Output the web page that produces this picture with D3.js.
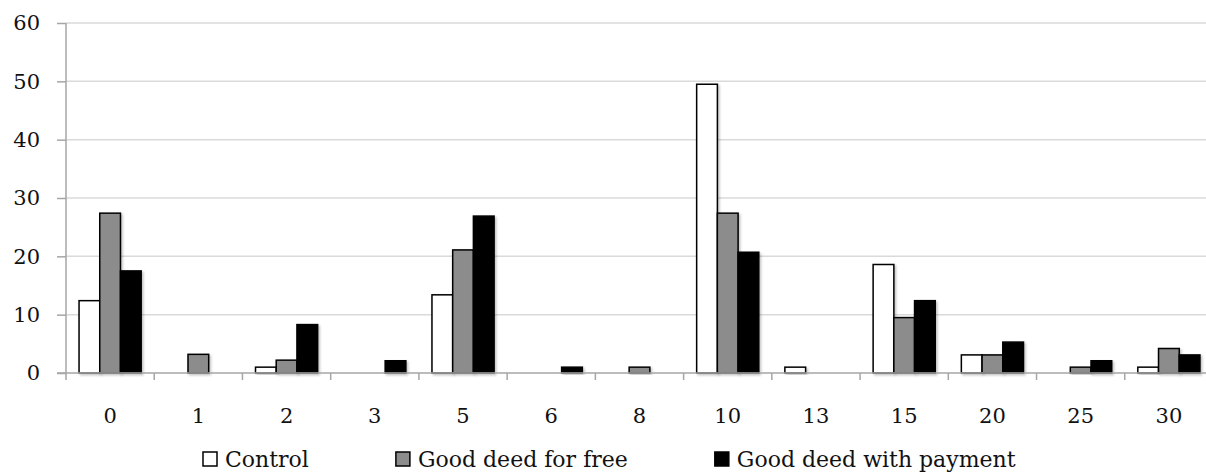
<!DOCTYPE html>
<html>
<head>
<meta charset="utf-8">
<script src="https://cdn.jsdelivr.net/npm/d3@7"></script>
<style>
  html, body { margin: 0; padding: 0; background: #fff; }
  svg { display: block; }
  text { font-family: "DejaVu Serif", serif; fill: #111; }
</style>
</head>
<body>
<svg id="chart" width="1206" height="473"></svg>
<script>
const categories= ['0', '1', '2', '3', '5', '6', '8', '10', '13', '15', '20', '25', '30'];
const seriesNames= ['Control', 'Good deed for free', 'Good deed with payment'];
const control= [12.4, 0, 1.0, 0, 13.4, 0, 0, 49.5, 1.0, 18.6, 3.1, 0, 1.0];
const forFree= [27.4, 3.2, 2.2, 0, 21.1, 0, 1.0, 27.4, 0, 9.5, 3.1, 1.0, 4.2];
const withPayment= [17.5, 0, 8.3, 2.1, 26.9, 1.0, 0, 20.7, 0, 12.4, 5.3, 2.1, 3.1];
const yTicks= [0, 10, 20, 30, 40, 50, 60];

const seriesValues= [control, forFree, withPayment];
const fills= ['#ffffff', '#8c8c8c', '#000000'];

const svg= d3.select('#chart');
const mLeft= 66, mRight= 1213, mTop= 23, mBottom= 373;

const x= d3.scaleBand().domain(categories).range([mLeft, mRight]).paddingInner(0).paddingOuter(0);
const inner= d3.scaleBand().domain(d3.range(3)).range([0, x.bandwidth()]).paddingOuter(0.63).paddingInner(0);
const y= d3.scaleLinear().domain([0, 60]).range([mBottom, mTop]);

// shadow filter for the bars
const defs= svg.append('defs');
const f= defs.append('filter').attr('id', 'shadow').attr('x', '-20%').attr('y', '-20%').attr('width', '150%').attr('height', '150%');
f.append('feDropShadow').attr('dx', 1.5).attr('dy', 1.5).attr('stdDeviation', 1.2).attr('flood-color', '#000').attr('flood-opacity', 0.25);

// gridlines
svg.append('g')
  .selectAll('line')
  .data(yTicks.filter(d => d > 0))
  .join('line')
  .attr('x1', mLeft).attr('x2', mRight)
  .attr('y1', d => y(d)).attr('y2', d => y(d))
  .attr('stroke', '#dadada').attr('stroke-width', 1.5);

// y axis
const yAxis= svg.append('g')
  .attr('transform', `translate(${mLeft},0)`)
  .call(d3.axisLeft(y).tickValues(yTicks).tickSize(9).tickPadding(17));
yAxis.select('.domain').attr('stroke', '#a6a6a6').attr('stroke-width', 1.5).attr('d', `M0,${mTop}V${mBottom + 7}`);
yAxis.selectAll('.tick line').attr('stroke', '#a6a6a6').attr('stroke-width', 1.5);
yAxis.selectAll('.tick text').style('font-family', '"DejaVu Serif", serif').style('font-size', '21px').attr('fill', '#111');

// bars
const groups= svg.append('g')
  .selectAll('g')
  .data(categories)
  .join('g')
  .attr('transform', d => `translate(${x(d)},0)`);

groups.selectAll('rect')
  .data((c, i) => seriesValues.map((s, k) => ({ k, v: s[i] })).filter(d => d.v > 0))
  .join('rect')
  .attr('x', d => inner(d.k))
  .attr('width', inner.bandwidth())
  .attr('y', d => y(d.v))
  .attr('height', d => y(0) - y(d.v))
  .attr('fill', d => fills[d.k])
  .attr('stroke', '#000')
  .attr('stroke-width', 1.5)
  .attr('filter', 'url(#shadow)');

// x axis
const xAxis= svg.append('g').attr('transform', `translate(0,${mBottom})`);
xAxis.append('line')
  .attr('x1', mLeft - 9).attr('x2', mRight)
  .attr('stroke', '#a6a6a6').attr('stroke-width', 1.5);
xAxis.selectAll('line.tick')
  .data(categories)
  .join('line')
  .attr('class', 'tick')
  .attr('x1', d => x(d) + x.bandwidth()).attr('x2', d => x(d) + x.bandwidth())
  .attr('y1', 0).attr('y2', 7)
  .attr('stroke', '#a6a6a6').attr('stroke-width', 1.5);
xAxis.selectAll('text')
  .data(categories)
  .join('text')
  .attr('x', d => x(d) + x.bandwidth() / 2)
  .attr('y', 50)
  .attr('text-anchor', 'middle')
  .style('font-size', '21px')
  .text(d => d);

// legend
const legend= svg.append('g').attr('transform', 'translate(203,0)');
let lx= 0;
seriesNames.forEach((name, k) => {
  const item= legend.append('g').attr('transform', `translate(${lx},0)`);
  item.append('rect')
    .attr('x', 0).attr('y', 452).attr('width', 14).attr('height', 14)
    .attr('fill', fills[k]).attr('stroke', '#000').attr('stroke-width', 1.5);
  const t= item.append('text')
    .attr('x', 22).attr('y', 467)
    .style('font-size', '22px')
    .text(name);
  lx += 22 + t.node().getComputedTextLength() + 87;
});
</script>
</body>
</html>
